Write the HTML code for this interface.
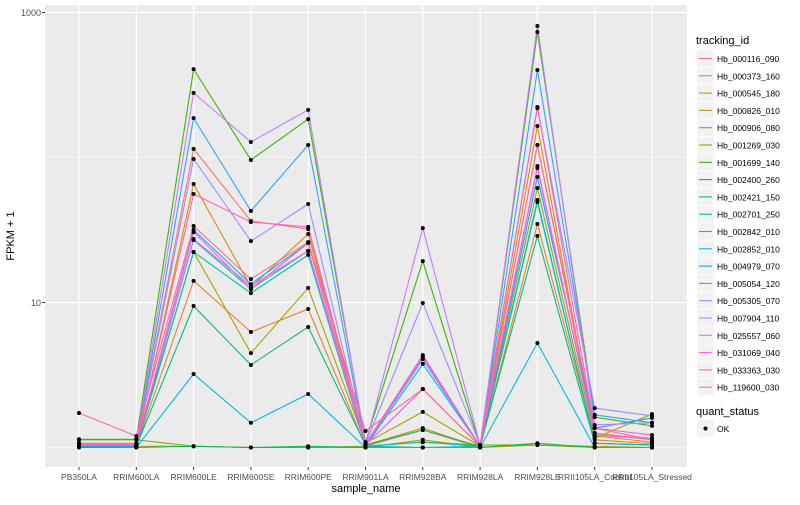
<!DOCTYPE html>
<html><head><meta charset="utf-8">
<style>
body{margin:0;background:#fff;font-family:"Liberation Sans",sans-serif;}
svg text{font-family:"Liberation Sans",sans-serif;}
</style></head>
<body>
<svg id="chart" width="800" height="500"></svg>
<script>
const categories=["PB350LA","RRIM600LA","RRIM600LE","RRIM600SE","RRIM600PE","RRIM901LA","RRIM928BA","RRIM928LA","RRIM928LE","RRII105LA_Control","RRII105LA_Stressed"];
const seriesNames=["Hb_000116_090","Hb_000373_160","Hb_000545_180","Hb_000826_010","Hb_000906_080","Hb_001269_030","Hb_001699_140","Hb_002400_260","Hb_002421_150","Hb_002701_250","Hb_002842_010","Hb_002852_010","Hb_004979_070","Hb_005054_120","Hb_005305_070","Hb_007904_110","Hb_025557_060","Hb_031069_040","Hb_033363_030","Hb_119600_030"];
const colors=["#F8766D","#EA8331","#D89000","#C09B00","#A3A500","#7CAE00","#39B600","#00BB4E","#00BF7D","#00C1A3","#00BFC4","#00BAE0","#00B0F6","#35A2FF","#9590FF","#C77CFF","#E76BF3","#FA62DB","#FF62BC","#FF6C91"];
const s01=[1.07,1.07,114.6,36.5,32.1,1.04,2.53,1.02,122,1.26,1.13];
const s02=[1.02,1.02,14.1,6.26,9.02,1.02,1.32,1.0,34.8,1.13,1.06];
const s03=[1.04,1.02,65.7,12.8,29.7,1.04,1.36,1.0,165,1.2,1.09];
const s04=[1.02,1.02,1.02,1.0,1.0,1.0,1.13,1.0,1.04,1.02,1.0];
const s05=[1.06,1.04,22.3,4.48,12.6,1.07,1.76,1.02,61.6,1.16,1.7];
const s06=[1.13,1.13,1.02,1.0,1.0,1.02,1.09,1.04,1.04,1.0,1.0];
const s07=[1.14,1.14,407,96.2,184,1.09,19.3,1.02,734,1.62,1.41];
const s08=[1.0,1.0,1.02,1.0,1.02,1.0,1.0,1.0,1.07,1.0,1.0];
const s09=[1.02,1.02,9.46,3.71,6.78,1.04,1.32,1.02,28.8,1.07,1.04];
const s10=[1.02,1.02,22.3,11.6,21.3,1.02,1.09,1.02,49.3,1.07,1.04];
const s11=[1.02,1.02,27.0,12.4,22.7,1.02,1.0,1.02,50.9,1.07,1.04];
const s12=[1.02,1.0,3.21,1.48,2.34,1.0,1.0,1.0,5.26,1.0,1.0];
const s13=[1.04,1.02,31.6,13.4,25.7,1.02,3.77,1.02,73.4,1.36,1.6];
const s14=[1.04,1.04,187,42.8,122,1.04,4.07,1.02,401,1.68,1.48];
const s15=[1.06,1.06,97.7,26.5,47.8,1.06,9.93,1.04,219,1.87,1.65];
const s16=[1.07,1.06,279,128,213,1.06,32.6,1.04,807,1.43,1.48];
const s17=[1.06,1.06,27.4,13.0,22.7,1.04,2.53,1.02,84.7,1.22,1.14];
const s18=[1.04,1.04,30.6,12.4,25.7,1.04,4.21,1.02,87.4,1.22,1.16];
const s19=[1.06,1.06,56,35.9,33.2,1.06,4.34,1.02,223,1.36,1.22];
const s20=[1.73,1.2,33.7,14.5,26.1,1.3,2.53,1.02,122,1.36,1.13];
const seriesValues=[s01,s02,s03,s04,s05,s06,s07,s08,s09,s10,s11,s12,s13,s14,s15,s16,s17,s18,s19,s20];
const yTicks=[10,1000];
const yMinor=[1,100];

const NS="http://www.w3.org/2000/svg";
const svg=document.getElementById('chart');
const P={l:45,r:687,t:5,b:467};
const x0=79,step=57.3;
function xs(i){return x0+i*step;}
function ys(v){return 447.5-145*Math.log10(v);}
function el(tag,attrs,parent){const e=document.createElementNS(NS,tag);for(const k in attrs)e.setAttribute(k,attrs[k]);(parent||svg).appendChild(e);return e;}

const panel=el('rect',{x:P.l,y:P.t,width:P.r-P.l,height:P.b-P.t,fill:'#EBEBEB'});


yMinor.forEach(v=>{const g=el('line',{x1:P.l,x2:P.r,y1:ys(v),y2:ys(v),stroke:'#fff','stroke-width':0.6});

});
yTicks.forEach(v=>{const g=el('line',{x1:P.l,x2:P.r,y1:ys(v),y2:ys(v),stroke:'#fff','stroke-width':1.2});


const t=el('text',{x:P.l-4,y:ys(v)+3.5,'text-anchor':'end','font-size':9,fill:'#4D4D4D'});t.textContent=v;


el('line',{x1:P.l-3,x2:P.l,y1:ys(v),y2:ys(v),stroke:'#333','stroke-width':1});});
categories.forEach((c,i)=>{const g=el('line',{x1:xs(i),x2:xs(i),y1:P.t,y2:P.b,stroke:'#fff','stroke-width':1.2});


el('line',{x1:xs(i),x2:xs(i),y1:P.b,y2:P.b+3,stroke:'#333'});
const t=el('text',{x:xs(i),y:P.b+13,'text-anchor':'middle','font-size':8.5,fill:'#4D4D4D'});t.textContent=c;

});
seriesValues.forEach((vals,si)=>{
 const pts=vals.map((v,i)=>xs(i)+','+ys(v)).join(' ');
 const pl=el('polyline',{points:pts,fill:'none',stroke:colors[si],'stroke-width':1.1});
 
 
});
seriesValues.forEach((vals,si)=>{vals.forEach((v,i)=>{
 const p=el('circle',{cx:xs(i),cy:ys(v),r:2,fill:'#000'});
 
 
});});
const yt=el('text',{x:14,y:236,'text-anchor':'middle','font-size':11,fill:'#000',transform:'rotate(-90 14 236)'});yt.textContent='FPKM + 1';


const xt=el('text',{x:366,y:492,'text-anchor':'middle','font-size':11,fill:'#000'});xt.textContent='sample_name';


const lt=el('text',{x:696,y:44,'font-size':11,fill:'#000'});lt.textContent='tracking_id';


seriesNames.forEach((n,i)=>{const y=50+i*17.3;
 const bg=el('rect',{x:697,y:y,width:17,height:17,fill:'#F2F2F2',stroke:'#fff','stroke-width':0.6});
 
 
 el('line',{x1:699,x2:712,y1:y+8.5,y2:y+8.5,stroke:colors[i],'stroke-width':1.1});
 const t=el('text',{x:717,y:y+12,'font-size':8.5,fill:'#000'});t.textContent=n;
 
 });
const qt=el('text',{x:696,y:415,'font-size':11,fill:'#000'});qt.textContent='quant_status';


const qb=el('rect',{x:697,y:420,width:17,height:17,fill:'#F2F2F2'});


el('circle',{cx:705.5,cy:428.5,r:2,fill:'#000'});
const ok=el('text',{x:717,y:432,'font-size':8.5,fill:'#000'});ok.textContent='OK';


</script>
</body></html>
